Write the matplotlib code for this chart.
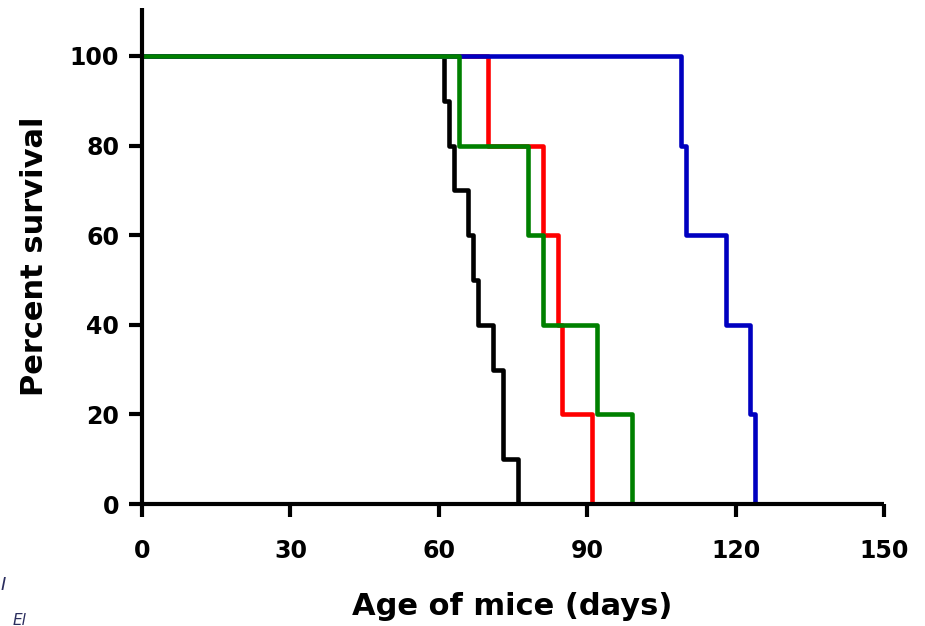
import matplotlib
matplotlib.use("Agg")
import matplotlib.pyplot as plt

# survival data (days, percent survival)
black_days = [0, 61, 62, 63, 66, 67, 68, 71, 73, 76]
black_surv = [100, 90, 80, 70, 60, 50, 40, 30, 10, 0]

red_days = [0, 70, 81, 84, 85, 91]
red_surv = [100, 80, 60, 40, 20, 0]

blue_days = [0, 109, 110, 118, 123, 124]
blue_surv = [100, 80, 60, 40, 20, 0]

green_days = [0, 64, 78, 81, 92, 99]
green_surv = [100, 80, 60, 40, 20, 0]

x_ticks = [0, 30, 60, 90, 120, 150]
y_ticks = [0, 20, 40, 60, 80, 100]

plt.rcParams['font.family'] = ['DejaVu Sans']
plt.rcParams['font.weight'] = 'bold'

fig = plt.figure(figsize=(9.25, 6.26), dpi=100)
ax = fig.add_axes([142/925, 1 - 504/626, 742/925, 496/626])

lw = 3.3
ax.step(black_days, black_surv, where='post', color='black', lw=lw)
ax.step(red_days, red_surv, where='post', color='#ff0000', lw=lw)
ax.step(blue_days, blue_surv, where='post', color='#0000c0', lw=lw)
ax.step(green_days, green_surv, where='post', color='#008000', lw=lw)

ax.set_xlim(0, 150)
ax.set_ylim(0, 110.7)
ax.set_xticks(x_ticks)
ax.set_yticks(y_ticks)

for side in ['top', 'right']:
    ax.spines[side].set_visible(False)
for side in ['left', 'bottom']:
    ax.spines[side].set_linewidth(3)
    ax.spines[side].set_capstyle('butt')

ax.tick_params(axis='both', direction='out', length=9.5, width=3, labelsize=17)
ax.tick_params(axis='x', pad=16)
ax.tick_params(axis='y', pad=7)
for lab in ax.get_xticklabels() + ax.get_yticklabels():
    lab.set_fontweight('bold')

ax.set_xlabel('Age of mice (days)', fontsize=22, fontweight='bold')
ax.set_ylabel('Percent survival', fontsize=22, fontweight='bold')
ax.xaxis.set_label_coords(0.499, -0.178)
ax.yaxis.set_label_coords(-0.125, 0.5)

# fragments of page text at the bottom-left corner
fig.text(0.001, 0.058, 'I', color='#2a2d5e', style='italic', fontsize=13,
         fontweight='normal')
fig.text(0.014, 0.002, 'El', color='#2a2d5e', style='italic', fontsize=11,
         fontweight='normal')

fig.savefig('out.png', dpi=100)
